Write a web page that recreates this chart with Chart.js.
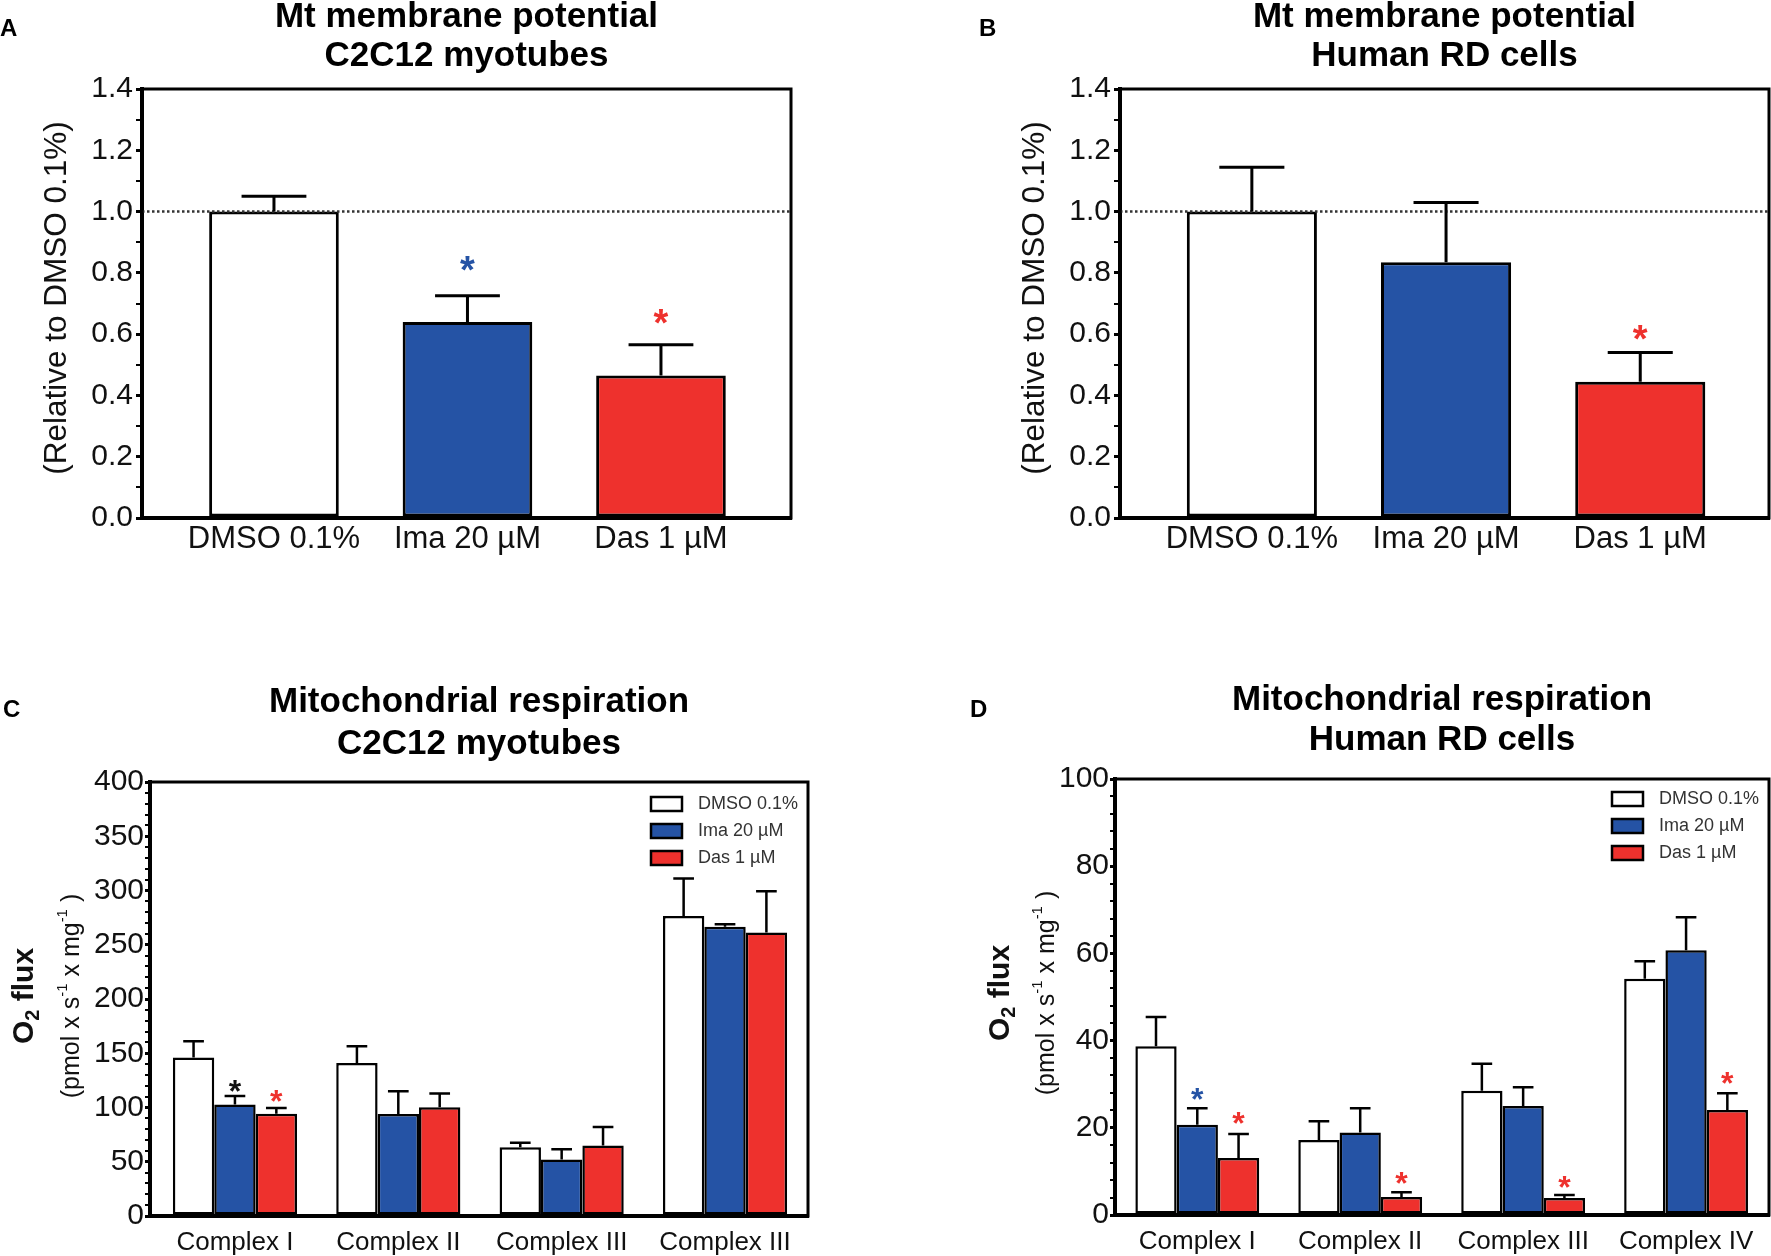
<!DOCTYPE html>
<html>
<head>
<meta charset="utf-8">
<script src="https://cdn.jsdelivr.net/npm/chart.js@4.4.1/dist/chart.umd.min.js"></script>
<style>
  html, body { margin: 0; padding: 0; background: #fff; }
  body { width: 1771px; height: 1256px; position: relative; overflow: hidden; }
  canvas { position: absolute; }
</style>
</head>
<body>
<canvas id="cA" width="885" height="628" style="left:0;top:0"></canvas>
<canvas id="cB" width="886" height="628" style="left:885px;top:0"></canvas>
<canvas id="cC" width="885" height="628" style="left:0;top:628px"></canvas>
<canvas id="cD" width="886" height="628" style="left:885px;top:628px"></canvas>
<script>
const FONT = "'Liberation Sans', Arial, Helvetica, sans-serif";
const WHITE = '#ffffff', BLUE = '#2553a5', RED = '#ee312d';

// A / B : Mt membrane potential, relative to DMSO 0.1%
const mmpGroups = ['DMSO 0.1%', 'Ima 20 µM', 'Das 1 µM'];
const mmpColors = [WHITE, BLUE, RED];
const c2c12Mmp = [1.0, 0.64, 0.465];
const c2c12MmpSem = [0.05, 0.085, 0.10];
const c2c12MmpStars = [null, 0.837, 0.664];
const rdMmp = [1.0, 0.835, 0.445];
const rdMmpSem = [0.145, 0.195, 0.095];
const rdMmpStars = [null, null, 0.611];

// C / D : mitochondrial respiration, O2 flux
const treatments = ['DMSO 0.1%', 'Ima 20 µM', 'Das 1 µM'];
const c2c12Complexes = ['Complex I', 'Complex II', 'Complex III', 'Complex III'];
const c2c12Dmso = [146, 141, 63.3, 276.5];
const c2c12DmsoSem = [15, 15.5, 4.2, 34.5];
const c2c12Ima = [102.7, 94, 52, 266.7];
const c2c12ImaSem = [8, 21, 9.6, 2.3];
const c2c12Das = [94.3, 100.3, 65, 261.4];
const c2c12DasSem = [5.3, 12.7, 17, 38];
const c2c12ImaStars = [122, null, null, null];
const c2c12DasStars = [112.6, null, null, null];

const rdComplexes = ['Complex I', 'Complex II', 'Complex III', 'Complex IV'];
const rdDmso = [38.7, 17.2, 28.5, 54.2];
const rdDmsoSem = [6.7, 4.3, 6.2, 4.0];
const rdIma = [20.7, 18.9, 25, 60.7];
const rdImaSem = [3.8, 5.6, 4.3, 7.6];
const rdDas = [13.1, 4.1, 3.9, 24.1];
const rdDasSem = [5.5, 1.1, 0.7, 3.8];
const rdImaStars = [28.2, null, null, null];
const rdDasStars = [22.7, 9.1, 8.0, 32];

const toXY = arr => arr.map((v, i) => ({ x: i, y: v }));

// draw a run of text pieces (for sub/superscripts), centred on 0,0
function drawRich(ctx, parts) {
  let total = 0;
  parts.forEach(p => { ctx.font = p.font; p.w = ctx.measureText(p.t).width; total += p.w; });
  let x = -total / 2;
  parts.forEach(p => { ctx.font = p.font; ctx.fillText(p.t, x, p.dy || 0); x += p.w; });
}

const decor = {
  id: 'decor',
  afterDatasetsDraw(chart, args, o) {
    const ctx = chart.ctx, a = chart.chartArea, ys = chart.scales.y;
    ctx.save();
    if (o.refLine != null) {
      const y = ys.getPixelForValue(o.refLine);
      ctx.setLineDash([2.5, 2.5]);
      ctx.strokeStyle = '#333';
      ctx.lineWidth = 2.5;
      ctx.beginPath(); ctx.moveTo(a.left, y); ctx.lineTo(a.right, y); ctx.stroke();
      ctx.setLineDash([]);
    }
    chart.data.datasets.forEach((ds, di) => {
      const meta = chart.getDatasetMeta(di);
      meta.data.forEach((bar, i) => {
        const v = ds.data[i].y;
        const yb = ys.getPixelForValue(v), yt = ys.getPixelForValue(v + ds.sem[i]);
        const hw = bar.width / 4;
        ctx.strokeStyle = '#000';
        ctx.lineWidth = o.errWidth;
        ctx.beginPath();
        ctx.moveTo(bar.x, yb); ctx.lineTo(bar.x, yt);
        ctx.moveTo(bar.x - hw, yt); ctx.lineTo(bar.x + hw, yt);
        ctx.stroke();
        if (ds.stars && ds.stars[i] != null) {
          ctx.fillStyle = Array.isArray(ds.starColor) ? ds.starColor[i] : ds.starColor;
          ctx.font = 'bold ' + o.starSize + 'px ' + FONT;
          ctx.textAlign = 'center';
          ctx.textBaseline = 'alphabetic';
          ctx.fillText('*', bar.x, ys.getPixelForValue(ds.stars[i]) + o.starSize * 0.57);
        }
      });
    });
    ctx.restore();
  },
  afterDraw(chart, args, o) {
    const ctx = chart.ctx, a = chart.chartArea;
    ctx.save();
    // plot frame
    ctx.strokeStyle = '#000';
    ctx.lineWidth = 3;
    ctx.strokeRect(a.left, a.top, a.right - a.left, a.bottom - a.top);
    // titles
    ctx.fillStyle = '#000';
    ctx.textBaseline = 'middle';
    ctx.textAlign = 'center';
    ctx.font = 'bold 35px ' + FONT;
    o.title.forEach((t, i) => ctx.fillText(t, (a.left + a.right) / 2, o.titleY[i]));
    // panel letter
    ctx.textAlign = 'left';
    ctx.font = 'bold 24px ' + FONT;
    ctx.fillText(o.letter[0], o.letter[1], o.letter[2]);
    // y axis titles
    o.yTitle.forEach(line => {
      ctx.save();
      ctx.translate(line.x, line.y);
      ctx.rotate(-Math.PI / 2);
      ctx.textAlign = 'left';
      ctx.fillStyle = '#111';
      drawRich(ctx, line.parts);
      ctx.restore();
    });
    // legend inside the plot
    if (o.legend) {
      const L = o.legend;
      chart.data.datasets.forEach((ds, i) => {
        const x = a.right - L.dx, y = a.top + L.y0 + i * L.dy;
        ctx.fillStyle = ds.backgroundColor;
        ctx.fillRect(x, y - 7, 31, 14);
        ctx.strokeStyle = '#000';
        ctx.lineWidth = 2.5;
        ctx.strokeRect(x, y - 7, 31, 14);
        ctx.fillStyle = '#333';
        ctx.font = '18px ' + FONT;
        ctx.textAlign = 'left';
        ctx.fillText(ds.label, x + 47, y);
      });
    }
    ctx.restore();
  }
};

function yAxis(max, step, major, width, fmt, tickLen, pad) {
  return {
    min: 0, max: max,
    afterFit: s => { s.width = width; },
    ticks: {
      stepSize: step, autoSkip: false, padding: pad, color: '#111',
      font: { family: FONT, size: 30 },
      callback: v => (Math.abs(v / major - Math.round(v / major)) < 1e-6) ? fmt(v) : ''
    },
    grid: {
      drawOnChartArea: false, tickLength: tickLen, color: '#000',
      tickWidth: c => (c.tick && c.tick.label !== '' ? 3 : 2),
      lineWidth: c => (c.tick && c.tick.label !== '' ? 3 : 2)
    },
    border: { color: '#000', width: 4 }
  };
}

function xAxis(names, min, max, height, size, pad) {
  return {
    type: 'linear', min: min, max: max, offset: false,
    afterFit: s => { s.height = height; },
    afterBuildTicks: s => { s.ticks = names.map((_, i) => ({ value: i })); },
    ticks: {
      autoSkip: false, maxRotation: 0, padding: pad, color: '#111',
      font: { family: FONT, size: size },
      callback: v => names[v]
    },
    grid: { display: false, drawTicks: false },
    border: { color: '#000', width: 4 }
  };
}

function makeChart(id, datasets, scales, padding, decorOpts) {
  return new Chart(document.getElementById(id), {
    type: 'bar',
    data: { datasets: datasets },
    options: {
      responsive: false,
      animation: false,
      layout: { padding: padding },
      scales: scales,
      plugins: { legend: { display: false }, tooltip: { enabled: false }, decor: decorOpts }
    },
    plugins: [decor]
  });
}

const mmpYTitle = x => [{ x: x, y: 298, parts: [{ t: '(Relative to DMSO 0.1%)', font: '31.5px ' + FONT }] }];
const fluxYTitle = (x1, x2, y) => [
  { x: x1, y: y, parts: [
    { t: 'O', font: 'bold 30px ' + FONT },
    { t: '2', font: 'bold 20px ' + FONT, dy: 8 },
    { t: ' flux', font: 'bold 30px ' + FONT }] },
  { x: x2, y: y, parts: [
    { t: '(pmol x s', font: '25px ' + FONT },
    { t: '-1', font: '15px ' + FONT, dy: -9 },
    { t: ' x mg', font: '25px ' + FONT },
    { t: '-1', font: '15px ' + FONT, dy: -9 },
    { t: ' )', font: '25px ' + FONT }] }
];

function mmpDataset(vals, sem, stars) {
  return {
    data: toXY(vals), sem: sem, stars: stars, starColor: mmpColors,
    backgroundColor: mmpColors, borderColor: '#000', borderWidth: 3, borderSkipped: false,
    barPercentage: 0.67, categoryPercentage: 1
  };
}

function fluxDataset(label, color, vals, sem, stars, starColor) {
  return {
    label: label, data: toXY(vals), sem: sem, stars: stars, starColor: starColor,
    backgroundColor: color, borderColor: '#000', borderWidth: 2.5, borderSkipped: false,
    barPercentage: 1, categoryPercentage: 0.76
  };
}

const fmt1 = v => v.toFixed(1);
const fmt0 = v => String(Math.round(v));

// A
makeChart('cA', [mmpDataset(c2c12Mmp, c2c12MmpSem, c2c12MmpStars)], {
  x: xAxis(mmpGroups, -0.682, 2.672, 60, 31, 3),
  y: yAxis(1.4, 0.1, 0.2, 70, fmt1, 6, 3)
}, { left: 72, top: 89, right: 94, bottom: 50 }, {
  refLine: 1.0, errWidth: 3, starSize: 38,
  title: ['Mt membrane potential', 'C2C12 myotubes'], titleY: [17, 56],
  letter: ['A', 0, 29], yTitle: mmpYTitle(57)
});

// B
makeChart('cB', [mmpDataset(rdMmp, rdMmpSem, rdMmpStars)], {
  x: xAxis(mmpGroups, -0.679, 2.663, 60, 31, 3),
  y: yAxis(1.4, 0.1, 0.2, 70, fmt1, 6, 3)
}, { left: 165, top: 89, right: 2, bottom: 50 }, {
  refLine: 1.0, errWidth: 3, starSize: 38,
  title: ['Mt membrane potential', 'Human RD cells'], titleY: [17, 56],
  letter: ['B', 94, 29], yTitle: mmpYTitle(150)
});

// C
makeChart('cC', [
  fluxDataset(treatments[0], WHITE, c2c12Dmso, c2c12DmsoSem, null, null),
  fluxDataset(treatments[1], BLUE, c2c12Ima, c2c12ImaSem, c2c12ImaStars, '#111'),
  fluxDataset(treatments[2], RED, c2c12Das, c2c12DasSem, c2c12DasStars, RED)
], {
  x: xAxis(c2c12Complexes, -0.52, 3.508, 40, 26, 11),
  y: yAxis(400, 10, 50, 60, fmt0, 5, 1)
}, { left: 90, top: 154, right: 77, bottom: 0 }, {
  errWidth: 2.5, starSize: 32,
  title: ['Mitochondrial respiration', 'C2C12 myotubes'], titleY: [74, 116],
  letter: ['C', 3, 82], yTitle: fluxYTitle(25, 72, 368),
  legend: { dx: 157, y0: 22, dy: 27 }
});

// D
makeChart('cD', [
  fluxDataset(treatments[0], WHITE, rdDmso, rdDmsoSem, null, null),
  fluxDataset(treatments[1], BLUE, rdIma, rdImaSem, rdImaStars, BLUE),
  fluxDataset(treatments[2], RED, rdDas, rdDasSem, rdDasStars, RED)
], {
  x: xAxis(rdComplexes, -0.505, 3.509, 40, 26, 11),
  y: yAxis(100, 4, 20, 60, fmt0, 5, 1)
}, { left: 170, top: 151, right: 2, bottom: 1 }, {
  errWidth: 2.5, starSize: 32,
  title: ['Mitochondrial respiration', 'Human RD cells'], titleY: [72, 112],
  letter: ['D', 85, 82], yTitle: fluxYTitle(116, 162, 365),
  legend: { dx: 157, y0: 20, dy: 27 }
});
</script>
</body>
</html>
